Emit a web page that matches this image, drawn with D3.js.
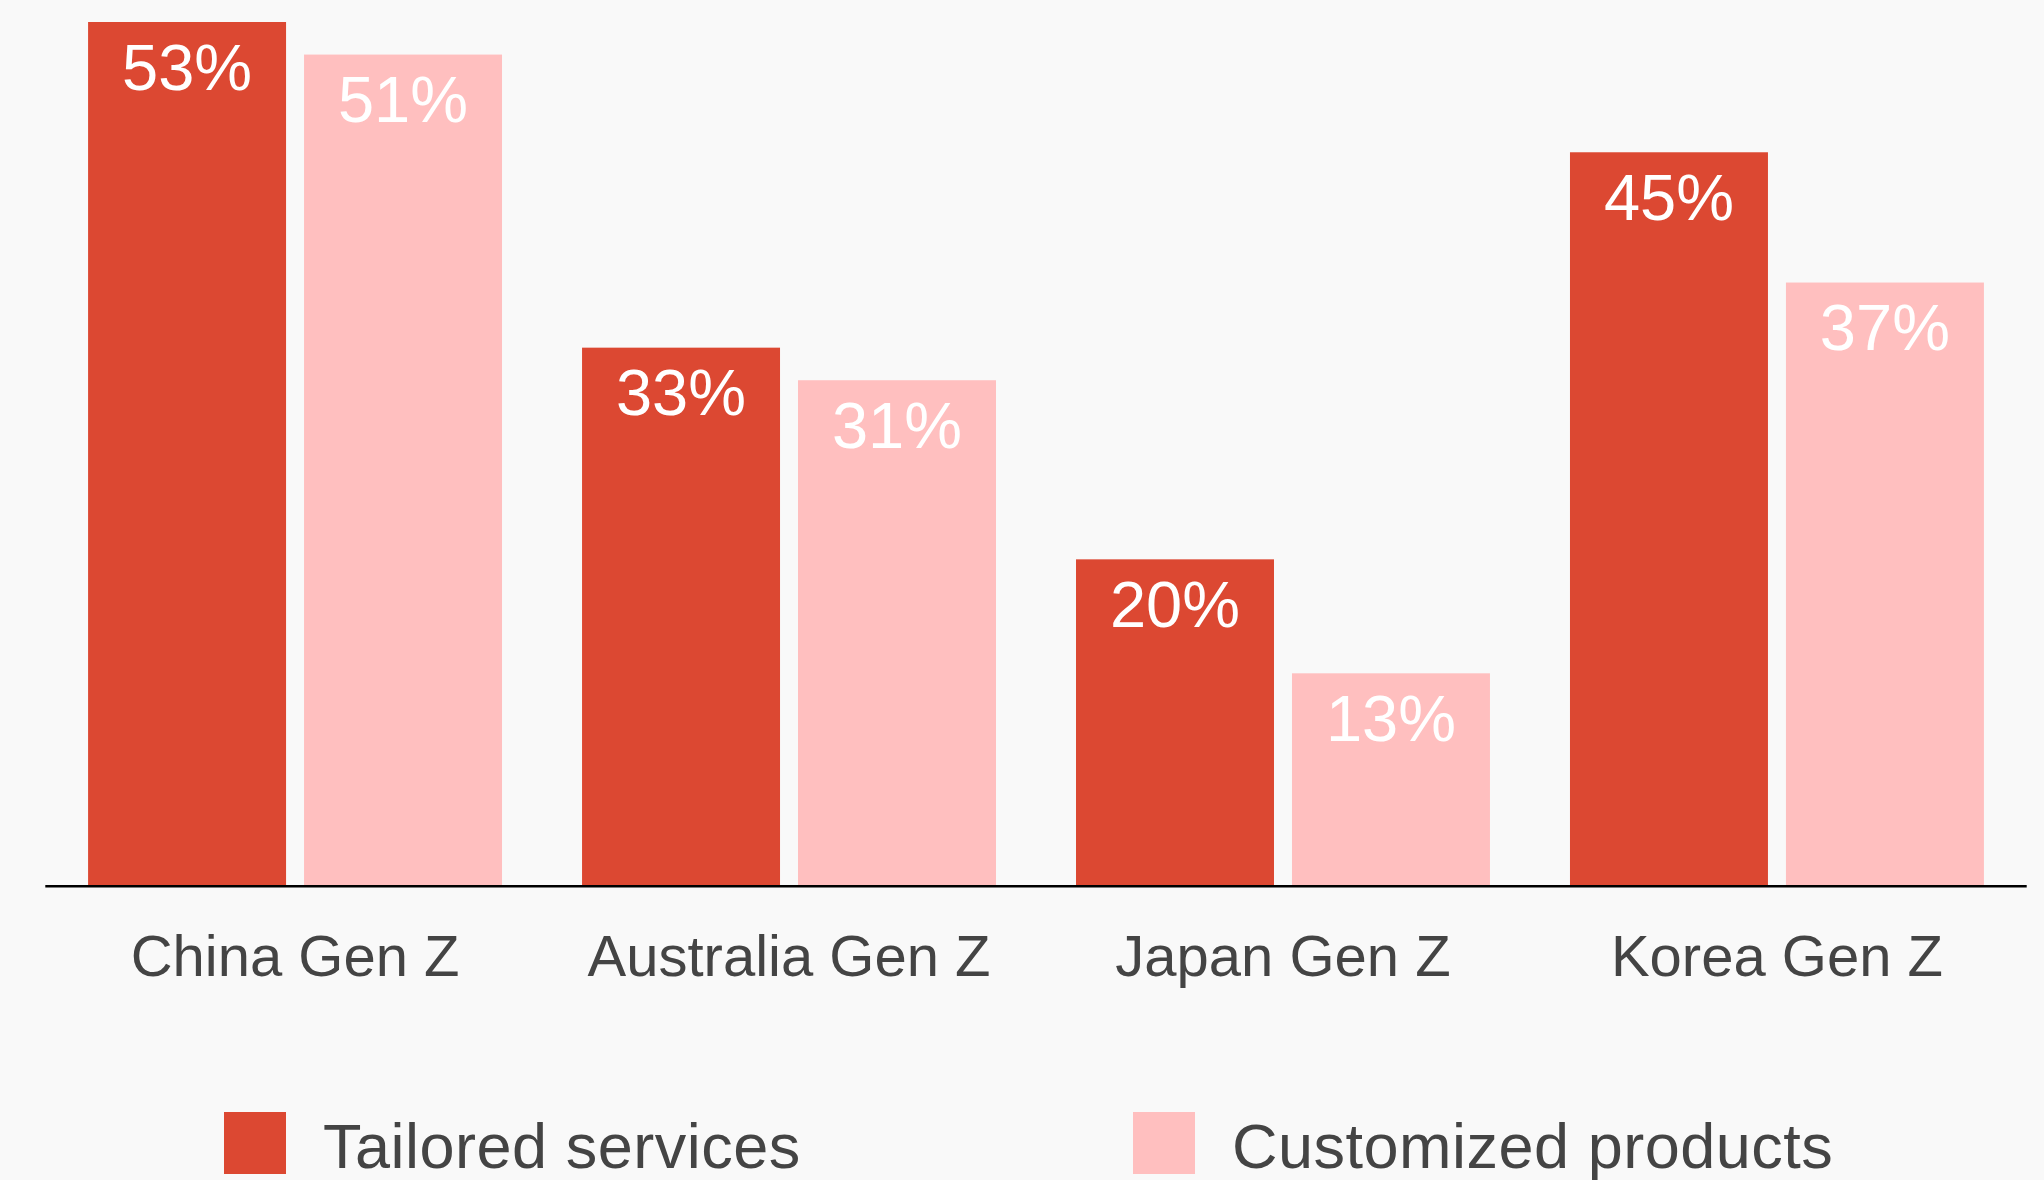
<!DOCTYPE html>
<html>
<head>
<meta charset="utf-8">
<script src="https://cdn.jsdelivr.net/npm/d3@7"></script>
<style>
  html, body { margin: 0; padding: 0; background: #f9f9f9; }
  svg { display: block; }
  text { font-family: "Liberation Sans", Arial, Helvetica, sans-serif; }
</style>
</head>
<body>
<svg id="chart" width="2044" height="1180"></svg>
<script>
'use strict';

// data
const categories = ["China Gen Z", "Australia Gen Z", "Japan Gen Z", "Korea Gen Z"];
const seriesNames = ["Tailored services", "Customized products"];
const tailored = [53, 33, 20, 45];
const customized = [51, 31, 13, 37];
const seriesColors = ["#dc4832", "#ffbfbf"];

const WIDTH = 2044;
const HEIGHT = 1180;

let svg = d3.select("#chart");
svg.append("rect").attr("width", WIDTH).attr("height", HEIGHT).attr("fill", "#f9f9f9");

// axis runs 45 -> 2027, bars sit on y = 885
let x0 = d3.scaleBand()
  .domain(categories)
  .range([45.3, 2026.7])
  .paddingInner(0.162)
  .paddingOuter(0.0866);

let x1 = d3.scaleBand()
  .domain(d3.range(seriesNames.length))
  .range([0, x0.bandwidth()])
  .paddingInner(0.0833);

let y = d3.scaleLinear()
  .domain([0, 53])
  .range([885, 22]);

let rows = categories.map(function (c, i) {
  return {category: c, values: [tailored[i], customized[i]]};
});

let groups = svg.append("g")
  .selectAll("g")
  .data(rows)
  .enter().append("g")
  .attr("transform", function (d) { return "translate(" + x0(d.category) + ",0)"; });

let cells = groups.selectAll("g")
  .data(function (d) { return d.values.map(function (v, k) { return {k: k, v: v}; }); })
  .enter().append("g");

cells.append("rect")
  .attr("x", function (d) { return x1(d.k); })
  .attr("y", function (d) { return y(d.v); })
  .attr("width", x1.bandwidth())
  .attr("height", function (d) { return y(0) - y(d.v); })
  .attr("fill", function (d) { return seriesColors[d.k]; });

cells.append("text")
  .attr("x", function (d) { return x1(d.k) + x1.bandwidth() / 2; })
  .attr("y", function (d) { return y(d.v) + 67.5; })
  .attr("text-anchor", "middle")
  .attr("fill", "#ffffff")
  .style("font-size", "65px")
  .text(function (d) { return d.v + "%"; });

// baseline
svg.append("line")
  .attr("x1", x0.range()[0])
  .attr("x2", x0.range()[1])
  .attr("y1", y(0) + 1.2)
  .attr("y2", y(0) + 1.2)
  .attr("stroke", "#000")
  .attr("stroke-width", 2.5);

// category labels
svg.append("g")
  .selectAll("text")
  .data(categories)
  .enter().append("text")
  .attr("x", function (d) { return x0(d) + x0.bandwidth() / 2; })
  .attr("y", 976)
  .attr("text-anchor", "middle")
  .attr("fill", "#444444")
  .style("font-size", "58px")
  .text(function (d) { return d; });

// legend
const legendX = [224, 1133];
let legend = svg.append("g")
  .selectAll("g")
  .data(seriesNames)
  .enter().append("g")
  .attr("transform", function (d, i) { return "translate(" + legendX[i] + ",1112)"; });

legend.append("rect")
  .attr("width", 62)
  .attr("height", 62)
  .attr("fill", function (d, i) { return seriesColors[i]; });

legend.append("text")
  .attr("x", 99)
  .attr("y", 55.5)
  .attr("fill", "#444444")
  .style("font-size", "63px")
  .style("letter-spacing", "0.5px")
  .text(function (d) { return d; });
</script>
</body>
</html>
